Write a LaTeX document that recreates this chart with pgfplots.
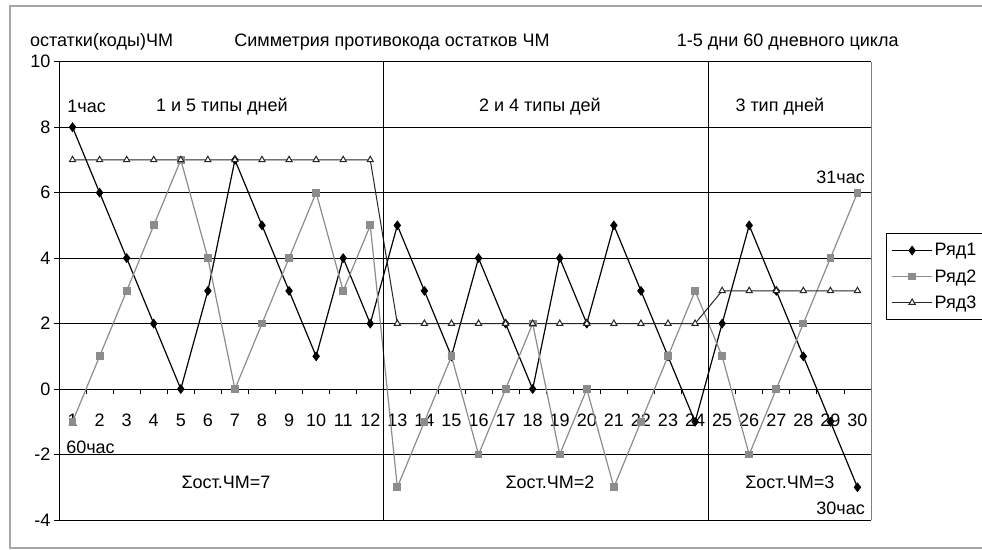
\documentclass[border=0pt]{standalone}
\usepackage{fontspec}
\setmainfont{Liberation Sans}
\usepackage{pgfplots}
\pgfplotsset{compat=1.18}
\definecolor{sgray}{RGB}{140,140,140}
\begin{document}
\begin{tikzpicture}[font=\fontsize{18bp}{21bp}\selectfont]
\useasboundingbox (0,0) rectangle (982bp,550bp);
\draw[gray!70, line width=1.5bp] (10bp,2bp) rectangle (1000bp,544bp);
\begin{axis}[
  at={(59bp,30bp)}, anchor=south west,
  scale only axis, width=812bp, height=458.3bp,
  xmin=0.5, xmax=30.5, ymin=-4, ymax=10,
  clip=false,
  axis x line=middle, axis y line=left,
  axis line style={-, black, line width=1bp},
  /pgf/number format/assume math mode=true,
  tick label style={font=\fontsize{18bp}{21bp}\selectfont},
  xtick={0.5,1.5,...,30.5},
  xticklabels={},
  xtick style={black, line width=0.8bp},
  extra x ticks={1,...,30},
  extra x tick style={major tick length=0pt, xticklabel style={anchor=center, yshift=-31bp}},
  ytick={-4,-2,...,10},
  ymajorgrids, grid style={black, line width=1bp},
  ytick style={black, line width=0.8bp}, tick align=outside, major tick length=5bp,
  legend style={at={(1.0185,0.626)}, anchor=north west, draw=black, line width=1bp,
    fill=white, inner xsep=5bp, inner ysep=8bp, row sep=8bp,
    font=\fontsize{18bp}{21bp}\selectfont},
  legend cell align=left,
  legend image code/.code={\draw[mark repeat=2,mark phase=2] plot coordinates {(0bp,0bp)(20bp,0bp)(40bp,0bp)};},
]
\addplot[black, line width=1.2bp, mark=diamond*, mark size=4bp, mark options={solid, fill=black}] coordinates {
(1,8)(2,6)(3,4)(4,2)(5,0)(6,3)(7,7)(8,5)(9,3)(10,1)(11,4)(12,2)(13,5)(14,3)(15,1)
(16,4)(17,2)(18,0)(19,4)(20,2)(21,5)(22,3)(23,1)(24,-1)(25,2)(26,5)(27,3)(28,1)(29,-1)(30,-3)};
\addlegendentry{Ряд1}
\addplot[sgray, line width=1.2bp, mark=square*, mark size=3.3bp, mark options={solid, fill=sgray}] coordinates {
(1,-1)(2,1)(3,3)(4,5)(5,7)(6,4)(7,0)(8,2)(9,4)(10,6)(11,3)(12,5)(13,-3)(14,-1)(15,1)
(16,-2)(17,0)(18,2)(19,-2)(20,0)(21,-3)(22,-1)(23,1)(24,3)(25,1)(26,-2)(27,0)(28,2)(29,4)(30,6)};
\addlegendentry{Ряд2}
\addplot[black!85, line width=1bp, mark=triangle*, mark size=3.6bp, mark options={solid, fill=white, draw=black!85}] coordinates {
(1,7)(2,7)(3,7)(4,7)(5,7)(6,7)(7,7)(8,7)(9,7)(10,7)(11,7)(12,7)(13,2)(14,2)(15,2)
(16,2)(17,2)(18,2)(19,2)(20,2)(21,2)(22,2)(23,2)(24,2)(25,3)(26,3)(27,3)(28,3)(29,3)(30,3)};
\addlegendentry{Ряд3}
\draw[black, line width=1bp] (axis cs:12.5,-4) -- (axis cs:12.5,10);
\draw[black, line width=1bp] (axis cs:24.5,-4) -- (axis cs:24.5,10);
\draw[gray, line width=1bp] (axis cs:30.5,-4) -- (axis cs:30.5,10);
\node[anchor=west] at (axis cs:-0.7,10.6) {остатки(коды)ЧМ};
\node[anchor=west] at (axis cs:6.85,10.6) {Симметрия противокода остатков ЧМ};
\node[anchor=west] at (axis cs:23.2,10.6) {1-5 дни 60 дневного цикла};
\node[anchor=west] at (axis cs:0.68,8.62) {1час};
\node at (axis cs:6.52,8.62) {1 и 5 типы дней};
\node at (axis cs:18.27,8.62) {2 и 4 типы дей};
\node at (axis cs:27.13,8.62) {3 тип дней};
\node[anchor=east] at (axis cs:30.4,6.48) {31час};
\node[anchor=west] at (axis cs:0.64,-1.77) {60час};
\node at (axis cs:6.67,-2.84) {Σост.ЧМ=7};
\node at (axis cs:18.64,-2.84) {Σост.ЧМ=2};
\node at (axis cs:27.5,-2.84) {Σост.ЧМ=3};
\node[anchor=east] at (axis cs:30.4,-3.63) {30час};
\end{axis}
\end{tikzpicture}
\end{document}
